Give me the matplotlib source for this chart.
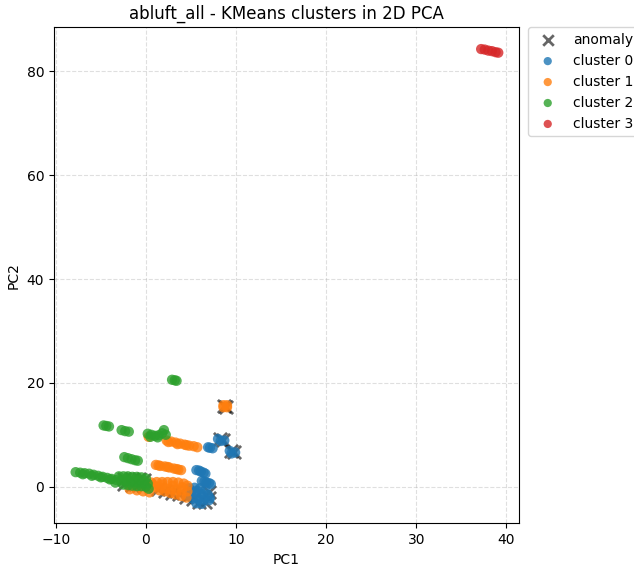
"""
KMeans clusters of abluft_all in 2D PCA space -> out.png
"""

import matplotlib
matplotlib.use("Agg")
import matplotlib.pyplot as plt

TITLE = "abluft_all - KMeans clusters in 2D PCA"
CLUSTER_LABELS = ["cluster 0", "cluster 1", "cluster 2", "cluster 3"]
CLUSTER_COLORS = ["#1f77b4", "#ff7f0e", "#2ca02c", "#d62728"]

# cluster 0 (blue)
C0_PC1 = [9.3, 9.9, 9.5, 8.0, 8.7, 8.3, 6.9, 7.4, 7.1,
          5.6, 5.9, 6.1, 6.4, 6.6, 6.2, 6.5, 6.7, 7.0, 7.2,
          4.8, 5.4, 6.0, 6.6, 5.0, 5.6, 6.2, 6.9,
          5.2, 5.8, 6.4, 7.0, 5.6, 6.2, 4.7, 7.1, 5.1, 5.7, 6.3]
C0_PC2 = [6.9, 6.6, 6.4, 9.2, 8.9, 8.8, 7.6, 7.4, 7.5,
          3.2, 3.1, 2.9, 2.7, 2.5, 1.1, 1.0, 0.8, 0.7, 0.5,
          -0.3, -0.2, -0.3, -0.6, -1.3, -1.3, -1.4, -1.6,
          -2.3, -2.4, -2.5, -2.6, -3.2, -3.3, -1.8, -2.2, -0.8, -0.8, -1.9]

# cluster 1 (orange)
C1_PC1 = [8.6, 9.0, 8.6, 9.0,
          2.3, 2.8, 3.3, 3.8, 4.3, 4.8, 5.3, 5.7, 2.5, 3.5, 4.5,
          1.1, 1.6, 2.1, 2.6, 3.1, 3.6, 3.9, 1.4, 2.4, 3.4,
          0.6, 1.2, 1.8, 2.4, 3.0, 3.6, 4.2, 4.6,
          1.0, 1.6, 2.2, 2.8, 3.4, 4.0, 4.6,
          1.5, 2.1, 2.7, 3.3, 3.9, 4.5,
          -1.8, -1.0, -0.3, 0.4, 0.3, 0.8, 1.8, 3.0, 4.0]
C1_PC2 = [15.7, 15.7, 15.3, 15.3,
          8.9, 8.7, 8.5, 8.3, 8.1, 7.9, 7.8, 7.6, 8.6, 8.2, 8.0,
          4.2, 4.0, 3.9, 3.7, 3.5, 3.3, 3.2, 4.1, 3.8, 3.4,
          0.8, 0.9, 0.9, 0.9, 0.9, 0.8, 0.6, 0.2,
          0.0, -0.2, -0.3, -0.5, -0.6, -0.7, -0.9,
          -0.7, -0.9, -1.2, -1.5, -1.8, -2.1,
          -0.5, -0.7, -0.9, -1.1, 9.6, 0.4, 0.4, 0.2, -0.1]

# cluster 2 (green)
C2_PC1 = [2.9, 3.2, 3.4,
          -4.7, -4.4, -4.1,
          -2.7, -2.3, -1.9,
          0.2, 0.6, 1.0, 1.4, 1.8, 2.0, 2.2, 0.5, 1.3,
          -2.4, -2.0, -1.6, -1.2, -0.9,
          -7.8, -7.3, -6.8, -6.3, -5.8, -5.3, -4.8, -4.3, -3.8, -3.3,
          -2.8, -2.3, -1.8, -1.3, -0.8, -0.3, 0.2,
          -3.0, -2.5, -2.0, -1.5, -1.0, -0.5, 0.0,
          -2.5, -2.0, -1.5, -1.0, -0.5, 0.0, 0.3,
          -7.0, -6.0, -5.0, -4.0, -3.4, -2.2, -1.2, -0.2]
C2_PC2 = [20.6, 20.5, 20.4,
          11.8, 11.7, 11.6,
          10.9, 10.7, 10.6,
          10.2, 10.0, 9.8, 9.9, 10.3, 10.9, 10.0, 9.6, 9.5,
          5.7, 5.5, 5.3, 5.1, 5.0,
          2.8, 2.7, 2.6, 2.5, 2.3, 2.1, 1.9, 1.7, 1.5, 1.3,
          1.2, 1.1, 1.0, 0.9, 0.8, 0.7, 0.6,
          2.0, 2.0, 2.0, 1.9, 1.9, 1.8, 1.6,
          0.4, 0.3, 0.2, 0.1, 0.1, 0.0, -0.4,
          2.4, 2.1, 1.8, 1.4, 0.8, 1.5, 1.3, 1.1]

# cluster 3 (red)
C3_PC1 = [37.2, 37.6, 38.0, 38.4, 38.8, 39.1]
C3_PC2 = [84.3, 84.2, 84.0, 83.9, 83.7, 83.6]

# anomalies (drawn underneath the clusters)
ANOM_PC1 = [8.7, 8.9, 8.2, 8.6, 9.4, 9.8,
            1.3, 2.1, 2.9, 3.7, 4.5, 5.2, 5.9, 6.6, 7.0, 7.0,
            -2.4, -1.6, -0.8, -0.2, -2.4, -1.6, -0.8, -0.2]
ANOM_PC2 = [15.6, 15.4, 9.1, 8.9, 6.8, 6.6,
            -0.5, -0.9, -1.2, -1.5, -1.9, -2.4, -3.0, -2.9, -2.1, -1.0,
            1.5, 1.4, 1.4, 1.3, 0.6, 0.4, 0.3, 0.2]

CLUSTERS = [(C0_PC1, C0_PC2), (C1_PC1, C1_PC2), (C2_PC1, C2_PC2), (C3_PC1, C3_PC2)]

fig = plt.figure(figsize=(6.34, 5.68), dpi=100)
ax = fig.add_axes([0.0852, 0.0787, 0.7334, 0.8733])

ax.scatter(ANOM_PC1, ANOM_PC2, marker="x", s=90, c="black", alpha=0.6,
           linewidths=2, label="anomaly", zorder=2)

for (xs, ys), label, color in zip(CLUSTERS, CLUSTER_LABELS, CLUSTER_COLORS):
    ax.scatter(xs, ys, s=55, c=color, alpha=0.8, label=label,
               edgecolors="none", zorder=3)

ax.set_xlim(-10.2, 41.4)
ax.set_ylim(-7.05, 88.5)
ax.grid(True, linestyle="--", alpha=0.4)
ax.set_axisbelow(True)
ax.set_title(TITLE, fontsize=12)
ax.set_xlabel("PC1")
ax.set_ylabel("PC2")
ax.legend(loc="upper left", bbox_to_anchor=(1.02, 1.0), borderaxespad=0,
          markerscale=0.8)

fig.savefig("out.png", dpi=100, facecolor="white")
